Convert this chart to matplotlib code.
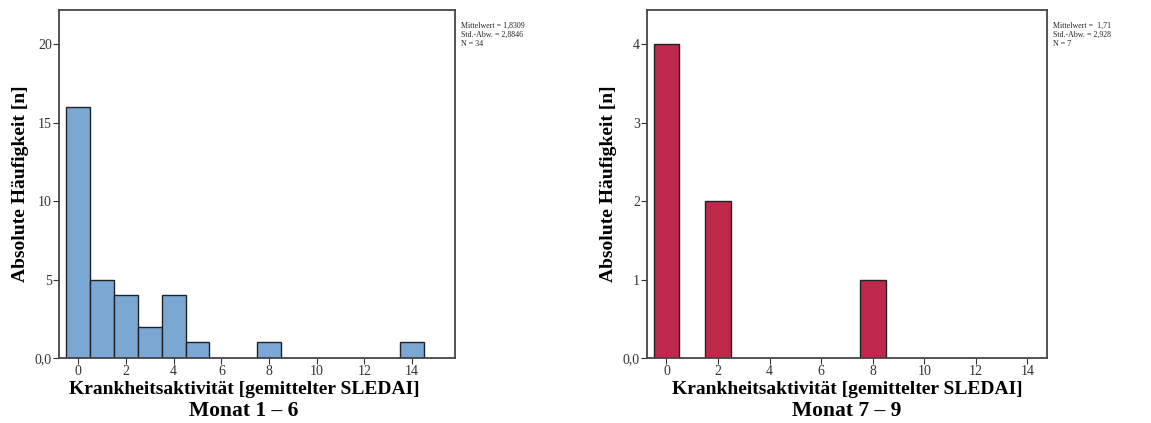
import numpy as np
import matplotlib.pyplot as plt

# Monat 1 - 6 (Häufigkeiten je SLEDAI-Wert)
sledai_1_6 = [0, 1, 2, 3, 4, 5, 8, 14]
counts_1_6 = [16, 5, 4, 2, 4, 1, 1, 1]

# Monat 7 - 9
sledai_7_9 = [0, 2, 8]
counts_7_9 = [4, 2, 1]

stats_1_6 = "Mittelwert = 1,8309\nStd.-Abw. = 2,8846\nN = 34"
stats_7_9 = "Mittelwert =  1,71\nStd.-Abw. = 2,928\nN = 7"

yticks_1_6 = [0, 5, 10, 15, 20]
yticklabels_1_6 = ["0,0", "5", "10", "15", "20"]
yticks_7_9 = [0, 1, 2, 3, 4]
yticklabels_7_9 = ["0,0", "1", "2", "3", "4"]
xticks = list(range(0, 15, 2))

plt.rcParams['font.family'] = ['Liberation Serif', 'DejaVu Serif']

fig = plt.figure(figsize=(11.51, 4.23), dpi=100)
ax1 = fig.add_axes([0.0513, 0.1537, 0.344, 0.8227])
ax2 = fig.add_axes([0.562, 0.1537, 0.3477, 0.8227])


def style(ax, x, y, color, xlim, ylim, yt, ytl, stats, subtitle, xc):
    ax.bar(x, y, width=1.0, color=color, edgecolor='#222222', linewidth=1.0, zorder=2)
    ax.set_xlim(*xlim)
    ax.set_ylim(*ylim)
    ax.set_xticks(xticks)
    ax.set_xticklabels([str(t) for t in xticks])
    ax.set_yticks(yt)
    ax.set_yticklabels(ytl)
    ax.tick_params(axis='both', labelsize=10, colors='#333333', length=4, width=0.8, pad=1)
    for s in ax.spines.values():
        s.set_color('#444444')
        s.set_linewidth(1.3)
    ax.set_ylabel("Absolute Häufigkeit [n]", fontsize=14, fontweight='bold', labelpad=4)
    ax.set_xlabel("Krankheitsaktivität [gemittelter SLEDAI]", fontsize=14,
                  fontweight='bold')
    ax.xaxis.set_label_coords(xc, -0.067)
    ax.text(xc, -0.153, subtitle, transform=ax.transAxes, fontsize=15.5,
            fontweight='bold', ha='center', va='center')
    ax.text(1.015, 0.965, stats, transform=ax.transAxes, fontsize=5.7, va='top', ha='left',
            linespacing=1.12, color='#222222')


style(ax1, sledai_1_6, counts_1_6, '#7BA7D4', (-0.81, 15.8), (0, 22.2),
      yticks_1_6, yticklabels_1_6, stats_1_6, "Monat 1 – 6", 0.467)
style(ax2, sledai_7_9, counts_7_9, '#BE294B', (-0.76, 14.76), (0, 4.44),
      yticks_7_9, yticklabels_7_9, stats_7_9, "Monat 7 – 9", 0.5)

fig.savefig("out.png", dpi=100)
